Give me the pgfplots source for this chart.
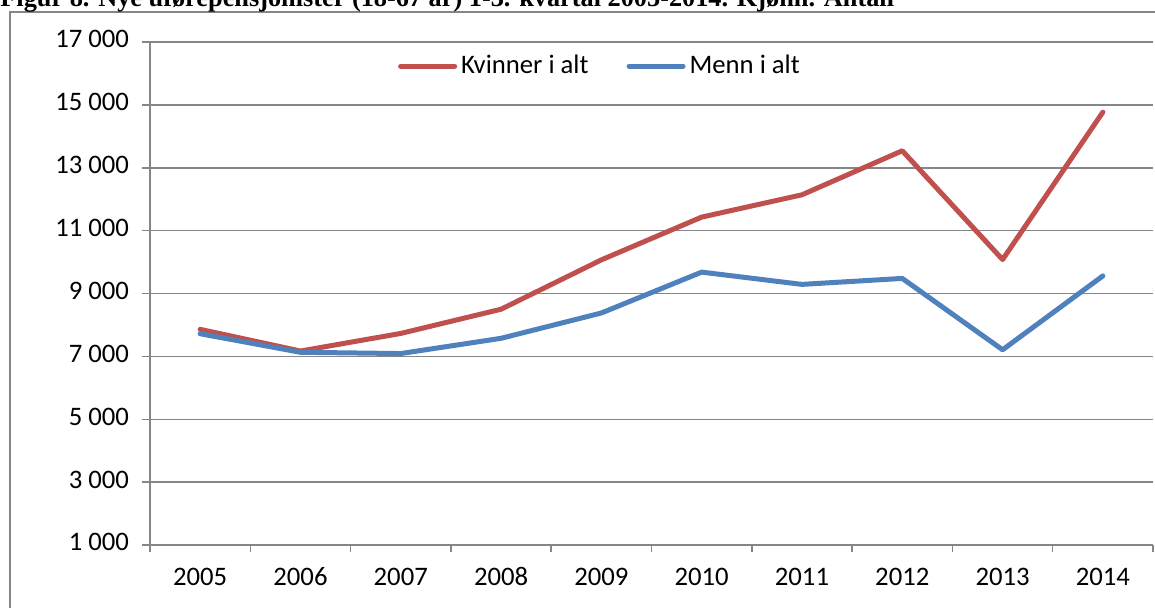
\documentclass[border=0pt]{standalone}
\usepackage{pgfplots}
\pgfplotsset{compat=1.18}
\usepackage{fontspec}
\setmainfont{Carlito}
\newfontfamily\titlefont{Liberation Serif}
\definecolor{kv}{HTML}{C0504D}
\definecolor{me}{HTML}{4F81BD}
\definecolor{gr}{HTML}{868686}
\begin{document}
\begin{tikzpicture}[x=1bp,y=1bp]
\useasboundingbox (0,0) rectangle (577.5,303.5);
\clip (0,0) rectangle (577.5,303.5);
\draw[gr, line width=1bp] (5,-10) -- (5,297.5) -- (590,297.5);
\node[anchor=base west, inner sep=0, font=\titlefont\bfseries\fontsize{13.2}{15}\selectfont] at (0,300.5) {Figur 8. Nye uførepensjonister (18-67 år) 1-3. kvartal 2005-2014. Kjønn. Antall};
\begin{axis}[
  at={(75bp,31bp)}, anchor=south west,
  width=501.5bp, height=251.5bp, scale only axis,
  xmin=-0.5, xmax=9.5, ymin=1000, ymax=17000,
  axis x line=bottom, axis y line=left,
  axis line style={gr, line width=0.75bp, -},
  xtick={0,...,9},
  xticklabels={2005,2006,2007,2008,2009,2010,2011,2012,2013,2014},
  minor xtick={-0.5,0.5,...,9.5},
  major x tick style={draw=none},
  minor x tick style={gr, line width=0.75bp},
  y tick style={gr, line width=0.75bp},
  tick align=outside,
  major tick length=4bp, minor tick length=3.5bp,
  ytick={1000,3000,...,17000},
  yticklabels={1 000,3 000,5 000,7 000,9 000,11 000,13 000,15 000,17 000},
  scaled y ticks=false,
  typeset ticklabels with strut,
  xticklabel style={yshift=-2.5bp},
  yticklabel style={xshift=-3bp},
  ymajorgrids, major grid style={gr, line width=0.75bp},
  tick label style={font=\fontsize{13.4}{15}\selectfont},
  legend style={at={(rel axis cs:0.247,0.952)}, anchor=west, draw=none, fill=none,
    legend columns=2, font=\fontsize{13.4}{15}\selectfont, inner sep=0pt,
    /tikz/every even column/.append style={column sep=17bp}},
  legend image code/.code={\draw[#1] (0bp,0bp) -- (27bp,0bp);},
  every axis plot/.append style={line width=2.5bp, line join=round, line cap=round},
]
\addplot[kv] coordinates {(0,7860) (1,7170) (2,7730) (3,8500) (4,10070) (5,11430) (6,12140) (7,13540) (8,10080) (9,14770)};
\addlegendentry{Kvinner i alt}
\addplot[me] coordinates {(0,7720) (1,7130) (2,7090) (3,7575) (4,8380) (5,9680) (6,9290) (7,9480) (8,7210) (9,9560)};
\addlegendentry{Menn i alt}
\end{axis}
\end{tikzpicture}
\end{document}
